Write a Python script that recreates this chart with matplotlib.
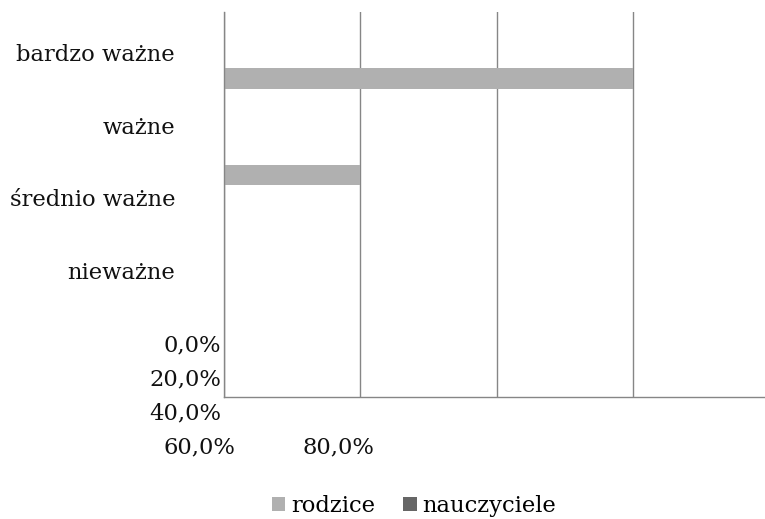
import matplotlib
matplotlib.use("Agg")
import matplotlib.pyplot as plt
from matplotlib.patches import Patch

categories = ["bardzo ważne", "ważne", "średnio ważne", "nieważne"]
series_names = ["rodzice", "nauczyciele"]
rodzice = [60.0, 20.0, 0.0, 0.0]
nauczyciele = [0.0, 0.0, 0.0, 0.0]
tick_labels = ["0,0%", "20,0%", "40,0%", "60,0%", "80,0%"]
tick_values = [0, 20, 40, 60, 80]

colors = ["#b0b0b0", "#666666"]
grid_color = "#868686"
FONT = "DejaVu Serif"
FS = 16.3

W, H = 765, 519
fig = plt.figure(figsize=(W / 100, H / 100), dpi=100)
ax = fig.add_axes([224 / W, 1 - 397 / H, (765 - 224) / W, (397 - 12) / H])

n = len(categories)
ypos = list(range(n))
bh = 0.21
off = 0.19
ax.barh([y + off for y in ypos], rodzice, height=bh, color=colors[0], zorder=2)
ax.barh([y + off - bh for y in ypos], nauczyciele, height=bh, color=colors[1], zorder=2)
ax.set_ylim(n - 0.5, -0.5)
ax.set_xlim(0, 79.3)
ax.set_xticks([v for v in tick_values if v < 79.3])
ax.set_xticklabels([])
ax.set_yticks([])
ax.tick_params(length=0)
ax.grid(axis="x", color=grid_color, linewidth=1, zorder=1)
for s in ["top", "right"]:
    ax.spines[s].set_visible(False)
for s in ["left", "bottom"]:
    ax.spines[s].set_color(grid_color)
    ax.spines[s].set_linewidth(1)

# category labels (as rendered, compressed layout)
label_y = [55, 128, 200, 273]
for lab, yy in zip(categories, label_y):
    fig.text(175 / W, 1 - yy / H, lab, ha="right", va="center", fontsize=FS,
             family=FONT, color="#111111")

# x tick labels (wrapped layout as in reference)
tick_pos = [(221, 345, "right"), (221, 379, "right"), (221, 413, "right"),
            (199, 447, "center"), (338, 447, "center")]
for lab, (xx, yy, ha) in zip(tick_labels, tick_pos):
    fig.text(xx / W, 1 - yy / H, lab, ha=ha, va="center", fontsize=FS,
             family=FONT, color="#111111")

handles = [Patch(facecolor=c, edgecolor="none") for c in colors]
fig.legend(handles, series_names, loc="center", bbox_to_anchor=(414 / W, 1 - 506 / H),
           ncol=2, frameon=False, prop={"family": FONT, "size": FS},
           handlelength=0.6, handleheight=0.6, handletextpad=0.25, columnspacing=1.25)

fig.savefig("out.png", dpi=100)
